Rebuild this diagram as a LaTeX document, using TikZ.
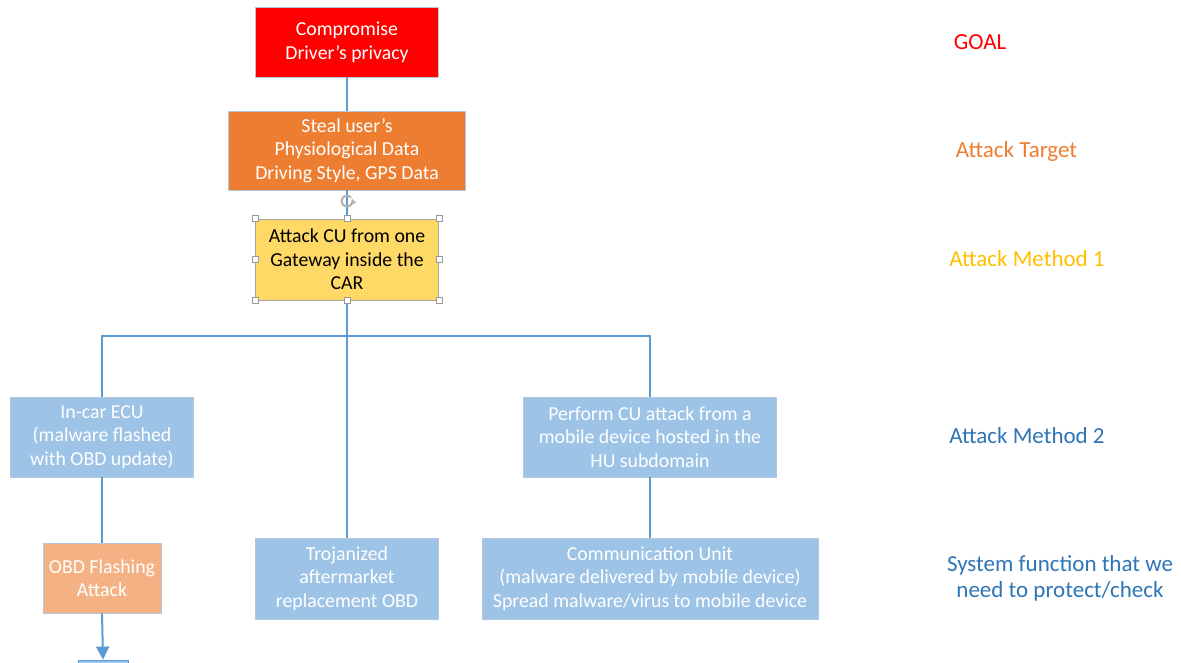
\documentclass[tikz,border=0pt]{standalone}
\usepackage{fontspec}
\setmainfont{Carlito}
\usetikzlibrary{arrows.meta}
\definecolor{cRed}{HTML}{FF0000}
\definecolor{cOrange}{HTML}{ED7D31}
\definecolor{cYellow}{HTML}{FFD966}
\definecolor{cLblue}{HTML}{9DC3E6}
\definecolor{cPeach}{HTML}{F4B183}
\definecolor{cLine}{HTML}{5B9BD5}
\definecolor{cEdge}{HTML}{B4C7DC}
\definecolor{cGold}{HTML}{FFC000}
\definecolor{cBlueTxt}{HTML}{2E75B6}
\tikzset{
  box/.style={draw=cEdge, line width=0.8pt, align=center, inner sep=2pt,
    font=\fontsize{19.8}{23.6}\selectfont, text=white},
  conn/.style={draw=cLine, line width=2pt},
  handle/.style={draw=gray!80, fill=white, line width=0.6pt, minimum size=6pt, inner sep=0pt},
  lbl/.style={font=\fontsize{23}{26}\selectfont, align=center},
}
\begin{document}
\begin{tikzpicture}[x=1pt,y=-1pt]
\useasboundingbox (0,0) rectangle (1181,662);
% boxes
\node[box, fill=cRed, minimum width=183pt, minimum height=70pt] (goal) at (347,42) {Compromise\\Driver’s privacy};
\node[box, fill=cOrange, minimum width=237pt, minimum height=79pt] (target) at (347,150.5) {Steal user’s\\Physiological Data\\Driving Style, GPS Data};
\node[box, fill=cYellow, draw=gray!70, text=black, minimum width=183pt, minimum height=81pt] (m1) at (347,259.5) {Attack CU from one\\Gateway inside the\\CAR};
\node[box, fill=cLblue, minimum width=183pt, minimum height=80pt] (ecu) at (102,437) {In-car ECU\\(malware flashed\\with OBD update)};
\node[box, fill=cLblue, minimum width=253pt, minimum height=80pt] (perf) at (650,437) {Perform CU attack from a\\mobile device hosted in the\\HU subdomain};
\node[box, fill=cPeach, minimum width=118pt, minimum height=70pt] (obd) at (102,578) {OBD Flashing\\Attack};
\node[box, fill=cLblue, minimum width=183pt, minimum height=81pt] (troj) at (347,578.5) {Trojanized\\aftermarket\\replacement OBD};
\node[box, fill=cLblue, minimum width=336pt, minimum height=81pt] (comm) at (650,578.5) {Communication Unit\\(malware delivered by mobile device)\\Spread malware/virus to mobile device};
\node[box, fill=cLblue, draw=cLine, minimum width=50pt, minimum height=40pt] (next) at (103,680) {};
% connectors
\coordinate (bus) at (347,336);
\draw[conn] (goal.south) -- (target.north);
\draw[conn] (target.south) -- (m1.north);
\draw[conn] (m1.south) -- (bus);
\draw[conn] (ecu.north) |- (bus) -| (perf.north);
\draw[conn] (bus) -- (troj.north);
\draw[conn] (ecu.south) -- (obd.north);
\draw[conn] (perf.south) -- (comm.north);
\draw[conn, -{Triangle[length=13pt,width=13pt]}] (obd.south) -- (next.north);
% selection handles
\foreach \a in {north west,north,north east,east,south east,south,south west,west}
  \node[handle] at (m1.\a) {};
\coordinate (rot) at (347,201);
\draw[gray!60, line width=2pt] ([shift={(40:5.5pt)}]rot) arc[start angle=40, end angle=330, radius=5.5pt];
\fill[gray!60] ([shift={(25:5.5pt)}]rot) -- ++(4pt,-4pt) -- ++(-5.5pt,-2.5pt) -- cycle;
% labels
\node[lbl, text=cRed] (lg) at (980,42) {GOAL};
\node[lbl, text=cOrange] (lt) at (1016.5,151) {Attack Target};
\node[lbl, text=cGold] (lm1) at (1027,259) {Attack Method 1};
\node[lbl, text=cBlueTxt] (lm2) at (1027,436) {Attack Method 2};
\node[lbl, text=cBlueTxt] (ls) at (1060,578) {System function that we\\need to protect/check};
\end{tikzpicture}
\end{document}
